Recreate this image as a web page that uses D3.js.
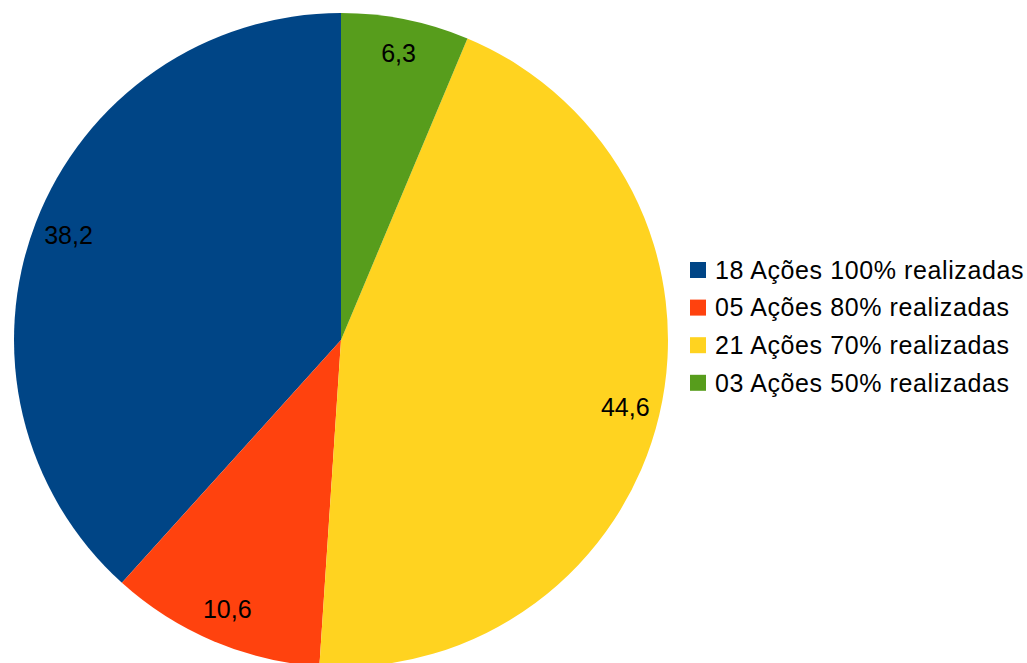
<!DOCTYPE html>
<html>
<head>
<meta charset="utf-8">
<script src="https://cdn.jsdelivr.net/npm/d3@7"></script>
<style>
body { margin: 0; background: #fff; }
text { font-family: "Liberation Sans", Arial, sans-serif; }
</style>
</head>
<body>
<div id="canvas"></div>
<script>
const categories = ["18 Ações 100% realizadas", "05 Ações 80% realizadas", "21 Ações 70% realizadas", "03 Ações 50% realizadas"];
const values = [38.2, 10.6, 44.6, 6.3];
const colors = ["#004586", "#ff420e", "#ffd320", "#579d1c"];

const width = 1027;
const height = 663;
const cx = 341, cy = 340, r = 327;

const svg = d3.select("#canvas").append("svg")
    .attr("width", width)
    .attr("height", height);

const data = categories.map((c, i) => ({ name: c, value: values[i], color: colors[i] }));

// counterclockwise from the top, like the original
const pie = d3.pie()
    .sort(null)
    .value(d => d.value)
    .startAngle(0)
    .endAngle(-2 * Math.PI);

const arc = d3.arc().innerRadius(0).outerRadius(r);
const labelArc = d3.arc().innerRadius(292).outerRadius(292);

const g = svg.append("g").attr("transform", `translate(${cx},${cy})`);

g.selectAll("path").data(pie(data)).enter().append("path")
    .attr("d", arc)
    .style("fill", d => d.data.color);

g.selectAll("text").data(pie(data)).enter().append("text")
    .attr("transform", d => `translate(${labelArc.centroid(d)})`)
    .attr("text-anchor", "middle")
    .attr("dy", "0.35em")
    .style("font-size", "25px")
    .text(d => String(d.data.value).replace(".", ","));

const legend = svg.append("g").attr("transform", "translate(690,270)");
const items = legend.selectAll("g").data(data).enter().append("g")
    .attr("transform", (d, i) => `translate(0,${i * 37.6})`);
items.append("rect")
    .attr("x", 0).attr("y", -8)
    .attr("width", 16).attr("height", 16)
    .style("fill", d => d.color);
items.append("text")
    .attr("x", 25)
    .attr("dy", "0.35em")
    .style("font-size", "25px")
    .style("letter-spacing", "0.6px")
    .text(d => d.name);
</script>
</body>
</html>
